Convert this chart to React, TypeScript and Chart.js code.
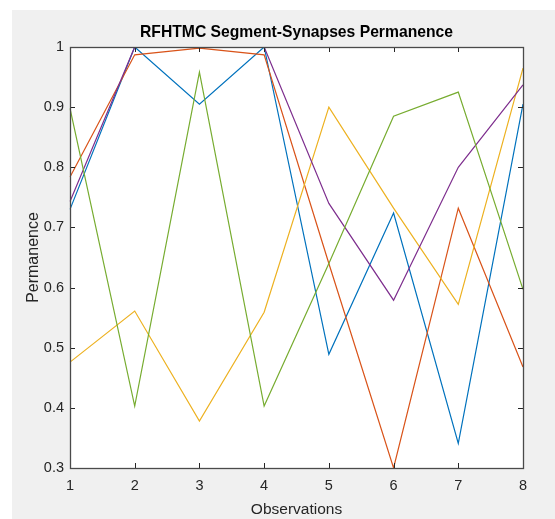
import React, { useEffect, useRef } from "react";
import { Chart, registerables } from "chart.js";

Chart.register(...registerables);

const observations = ["1", "2", "3", "4", "5", "6", "7", "8"];
const seriesBlue = [0.73, 1.0, 0.905, 1.0, 0.489, 0.724, 0.341, 0.905];
const seriesOrange = [0.784, 0.987, 0.998, 0.987, 0.64, 0.3, 0.732, 0.468];
const seriesYellow = [0.476, 0.561, 0.378, 0.559, 0.9, 0.732, 0.572, 0.965];
const seriesPurple = [0.743, 1.0, 1.0, 1.0, 0.74, 0.579, 0.8, 0.937];
const seriesGreen = [0.898, 0.403, 0.958, 0.403, 0.64, 0.885, 0.925, 0.597];
const yTickValues = [0.3, 0.4, 0.5, 0.6, 0.7, 0.8, 0.9, 1.0];
const titleText = "RFHTMC Segment-Synapses Permanence";

const colors = ["#0072BD", "#D95319", "#EDB120", "#7E2F8E", "#77AC30"];
const FONT = "'Liberation Sans', Arial, Helvetica, sans-serif";

const W = 543;
const H = 509;

const framePlugin = {
  id: "matlabFrame",
  beforeDraw(chart: any) {
    const { ctx, chartArea } = chart;
    ctx.save();
    ctx.fillStyle = "#f0f0f0";
    ctx.fillRect(0, 0, chart.width, chart.height);
    ctx.fillStyle = "#ffffff";
    ctx.fillRect(chartArea.left, chartArea.top, chartArea.right - chartArea.left, chartArea.bottom - chartArea.top);
    ctx.restore();
  },
  afterDatasetsDraw(chart: any) {
    const { ctx, chartArea } = chart;
    const xs = chart.scales.x;
    const ys = chart.scales.y;
    const len = 5;
    ctx.save();
    ctx.strokeStyle = "#262626";
    ctx.lineWidth = 1;
    ctx.beginPath();
    observations.forEach((_, i) => {
      const px = Math.round(xs.getPixelForValue(i)) + 0.5;
      ctx.moveTo(px, chartArea.bottom);
      ctx.lineTo(px, chartArea.bottom - len);
      ctx.moveTo(px, chartArea.top);
      ctx.lineTo(px, chartArea.top + len);
    });
    yTickValues.forEach((v) => {
      const py = Math.round(ys.getPixelForValue(v)) + 0.5;
      ctx.moveTo(chartArea.left, py);
      ctx.lineTo(chartArea.left + len, py);
      ctx.moveTo(chartArea.right, py);
      ctx.lineTo(chartArea.right - len, py);
    });
    ctx.stroke();
    ctx.strokeStyle = "#4a4a4a";
    ctx.lineWidth = 1.3;
    ctx.strokeRect(
      Math.round(chartArea.left) + 0.5,
      Math.round(chartArea.top) + 0.5,
      Math.round(chartArea.right - chartArea.left),
      Math.round(chartArea.bottom - chartArea.top)
    );
    // title centred over the axes, as MATLAB does
    ctx.fillStyle = "#000000";
    ctx.font = `bold 15.7px ${FONT}`;
    ctx.textAlign = "center";
    ctx.textBaseline = "middle";
    ctx.fillText(titleText, (chartArea.left + chartArea.right) / 2, 22.5);
    ctx.restore();
  },
};

export default function App() {
  const canvasRef = useRef<HTMLCanvasElement | null>(null);

  useEffect(() => {
    const canvas = canvasRef.current;
    if (!canvas) return;
    const series = [seriesBlue, seriesOrange, seriesYellow, seriesPurple, seriesGreen];
    const chart = new Chart(canvas, {
      type: "line",
      data: {
        labels: observations,
        datasets: series.map((d, i) => ({
          data: d,
          borderColor: colors[i],
          backgroundColor: colors[i],
          borderWidth: 1.2,
          pointRadius: 0,
          tension: 0,
          fill: false,
          order: series.length - i,
        })),
      },
      options: {
        responsive: false,
        animation: false,
        devicePixelRatio: 1,
        layout: { padding: { top: 37, right: 32, bottom: 0, left: 0 } },
        plugins: {
          legend: { display: false },
          tooltip: { enabled: false },
          title: { display: false },
        },
        scales: {
          x: {
            type: "category",
            offset: false,
            grid: { display: false, drawTicks: false },
            border: { display: false },
            ticks: {
              color: "#262626",
              font: { family: FONT, size: 14.5 },
              padding: 9,
              maxRotation: 0,
              autoSkip: false,
            },
            title: {
              display: true,
              text: "Observations",
              color: "#262626",
              font: { family: FONT, size: 15.5 },
              padding: { top: 0, bottom: 0 },
            },
            afterFit(scale: any) {
              scale.height = 51;
            },
          },
          y: {
            type: "linear",
            min: 0.3,
            max: 1,
            grid: { display: false, drawTicks: false },
            border: { display: false },
            afterBuildTicks(scale: any) {
              scale.ticks = yTickValues.map((v) => ({ value: v }));
            },
            ticks: {
              color: "#262626",
              font: { family: FONT, size: 14.5 },
              padding: 6,
              callback: (v: any) => Number(Number(v).toFixed(1)).toString(),
            },
            title: {
              display: true,
              text: "Permanence",
              color: "#262626",
              font: { family: FONT, size: 16 },
              padding: { top: 11.5, bottom: 0 },
            },
            afterFit(scale: any) {
              scale.width = 58;
            },
          },
        },
      },
      plugins: [framePlugin],
    });
    return () => {
      chart.destroy();
    };
  }, []);

  return (
    <div
      style={{
        position: "fixed",
        left: 0,
        top: 0,
        width: 555,
        height: 519,
        background: "#ffffff",
        overflow: "hidden",
      }}
    >
      <canvas
        ref={canvasRef}
        width={W}
        height={H}
        style={{ position: "absolute", left: 12, top: 10, width: W, height: H }}
      />
    </div>
  );
}
